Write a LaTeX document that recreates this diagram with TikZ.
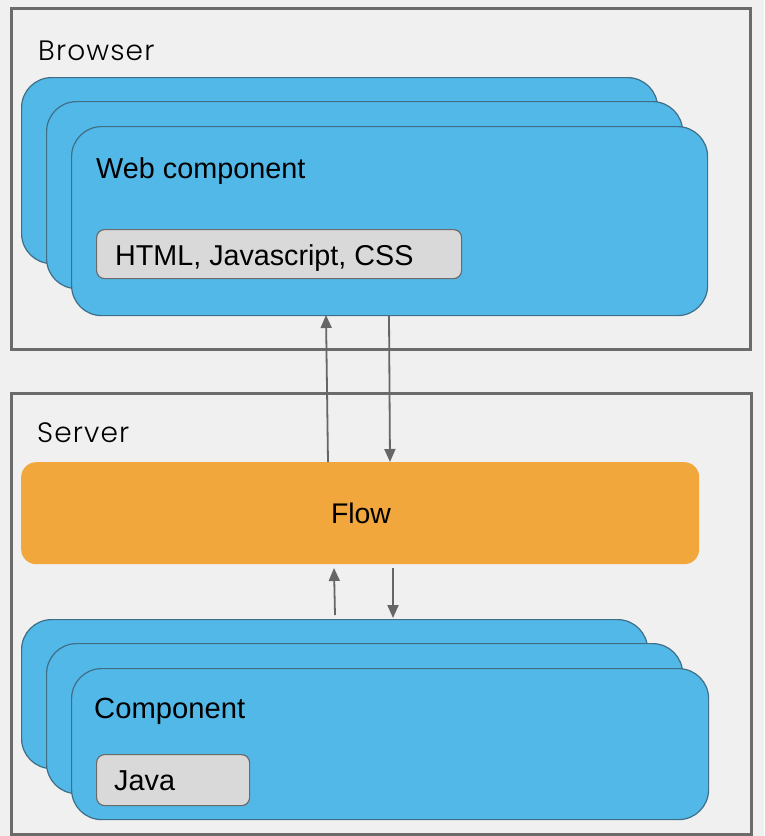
\documentclass[tikz,border=0pt]{standalone}
\usepackage{fontspec}
\setmainfont{Liberation Sans}
\newfontfamily\labfont[LetterSpace=4]{Poppins Light}
\usetikzlibrary{arrows.meta}
\definecolor{bgc}{HTML}{F0F0F0}
\definecolor{framec}{HTML}{6B6B6B}
\definecolor{cardc}{HTML}{52B8E8}
\definecolor{cardedge}{HTML}{3F6F87}
\definecolor{boxc}{HTML}{D9D9D9}
\definecolor{boxedge}{HTML}{6B6B6B}
\definecolor{flowc}{HTML}{F1A73B}
\definecolor{arrc}{HTML}{666666}
\tikzset{
  frame/.style={draw=framec, line width=3pt, fill=none, anchor=north west, inner sep=0pt},
  card/.style={draw=cardedge, line width=1.2pt, fill=cardc, rounded corners=30pt, anchor=north west, inner sep=0pt},
  tech/.style={draw=boxedge, line width=1.2pt, fill=boxc, rounded corners=8pt, anchor=north west, inner sep=0pt},
  flowbox/.style={fill=flowc, rounded corners=15pt, anchor=north west, inner sep=0pt},
  title/.style={font=\labfont\fontsize{28}{30}\selectfont, anchor=base west, inner sep=0pt, text=black},
  txt/.style={font=\fontsize{28.8}{31}\selectfont, anchor=base west, inner sep=0pt, text=black},
  conn/.style={draw=arrc, line width=1.8pt, -{Triangle[length=13pt,width=11pt]}},
}
\begin{document}
\begin{tikzpicture}[x=1pt,y=-1pt]
\useasboundingbox (0,0) rectangle (764,836);
\fill[bgc] (0,0) rectangle (764,836);
% Browser
\node[frame, minimum width=739pt, minimum height=341pt] (browser) at (10,7) {};
\node[title] (browserlab) at (38,60) {Browser};
\node[card, minimum width=636pt, minimum height=186pt] (wc1) at (21,77) {};
\node[card, minimum width=636pt, minimum height=187pt] (wc2) at (46,101) {};
\node[card, minimum width=636pt, minimum height=189pt] (wc3) at (71,126) {};
\node[txt] (wclab) at (96,178) {Web component};
\node[tech, minimum width=365pt, minimum height=49pt] (html) at (96,229) {};
\node[txt, font=\fontsize{28.7}{31}\selectfont] (htmllab) at (115,265) {HTML, Javascript, CSS};
% Server
\node[frame, minimum width=740pt, minimum height=441pt] (server) at (10,392) {};
\node[title] (serverlab) at (37,442) {Server};
\node[flowbox, minimum width=678pt, minimum height=102pt] (flow) at (21,462) {};
\node[txt, anchor=base, font=\fontsize{28.4}{31}\selectfont] (flowlab) at (361,523) {Flow};
\node[card, minimum width=626pt, minimum height=149pt] (c1) at (21,619) {};
\node[card, minimum width=636pt, minimum height=150pt] (c2) at (46,643) {};
\node[card, minimum width=637pt, minimum height=151pt] (c3) at (71,668) {};
\node[txt, font=\fontsize{29.2}{31}\selectfont] (clab) at (94,718) {Component};
\node[tech, minimum width=153pt, minimum height=51pt] (java) at (96,754) {};
\node[txt] (javalab) at (114,790) {Java};
% connector end points
\coordinate (u1s) at (328,462);
\coordinate (u1e) at (326,315);
\coordinate (d1s) at (389,315);
\coordinate (d1e) at (390,462);
\coordinate (u2s) at (335,615);
\coordinate (u2e) at (334,568);
\coordinate (d2s) at (393,568);
\coordinate (d2e) at (393,618);
\draw[conn] (u1s) -- (u1e);
\draw[conn] (d1s) -- (d1e);
\draw[conn] (u2s) -- (u2e);
\draw[conn] (d2s) -- (d2e);
\end{tikzpicture}
\end{document}
